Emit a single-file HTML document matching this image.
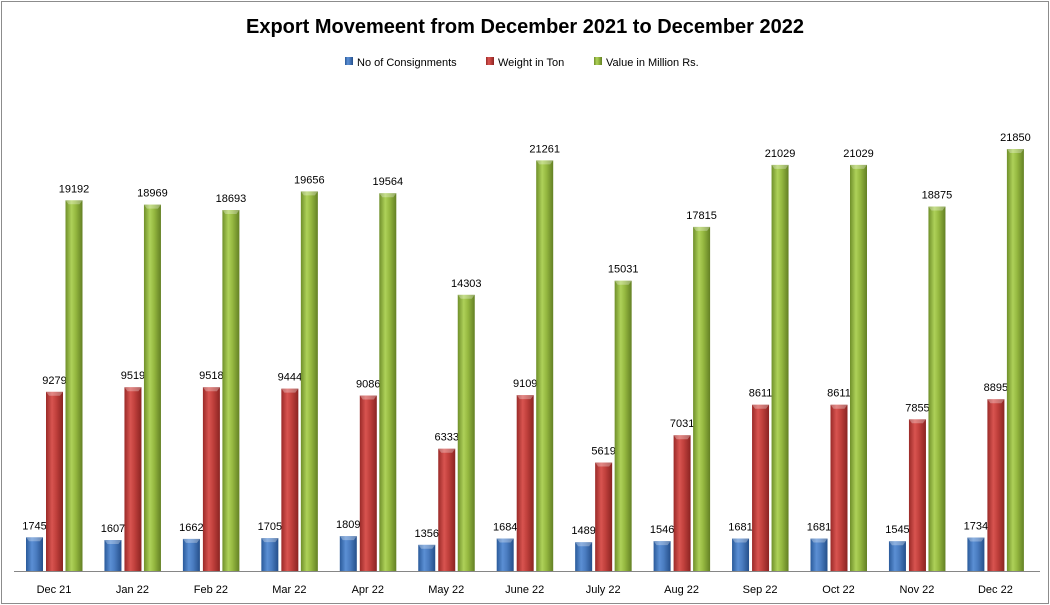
<!DOCTYPE html>
<html><head><meta charset="utf-8"><style>
body{margin:0;background:#fff;}
svg{display:block;font-family:"Liberation Sans",Arial,sans-serif;}
</style></head><body>
<svg id="c" width="1050" height="605" viewBox="0 0 1050 605" xmlns="http://www.w3.org/2000/svg">
<defs>
<linearGradient id="gb" x1="0" x2="1"><stop offset="0" stop-color="#2a5a9a"/><stop offset="0.35" stop-color="#5b8fd4"/><stop offset="0.6" stop-color="#4a7cc0"/><stop offset="1" stop-color="#254f8a"/></linearGradient>
<linearGradient id="gr" x1="0" x2="1"><stop offset="0" stop-color="#9a2a28"/><stop offset="0.35" stop-color="#d85450"/><stop offset="0.6" stop-color="#c0403c"/><stop offset="1" stop-color="#8a2422"/></linearGradient>
<linearGradient id="gg" x1="0" x2="1"><stop offset="0" stop-color="#6f8f2a"/><stop offset="0.35" stop-color="#aed159"/><stop offset="0.6" stop-color="#95b840"/><stop offset="1" stop-color="#638024"/></linearGradient>
</defs>
<rect x="1.5" y="1.5" width="1047" height="602" fill="#fff" stroke="#8c8c8c"/>
<text x="525" y="33" text-anchor="middle" font-size="20" font-weight="bold" fill="#000">Export Movemeent from December 2021 to December 2022</text>
<rect x="345" y="57" width="8" height="8" fill="url(#gb)"/><text x="357" y="66" font-size="11">No of Consignments</text>
<rect x="486" y="57" width="8" height="8" fill="url(#gr)"/><text x="498" y="66" font-size="11">Weight in Ton</text>
<rect x="594" y="57" width="8" height="8" fill="url(#gg)"/><text x="606" y="66" font-size="11">Value in Million Rs.</text>
<line x1="14" y1="571.5" x2="1040" y2="571.5" stroke="#868686"/>
<g id="bars"></g>
</svg>
<script>
var labels=["Dec 21","Jan 22","Feb 22","Mar 22","Apr 22","May 22","June 22","July 22","Aug 22","Sep 22","Oct 22","Nov 22","Dec 22"];
var a=[1745,1607,1662,1705,1809,1356,1684,1489,1546,1681,1681,1545,1734];
var b=[9279,9519,9518,9444,9086,6333,9109,5619,7031,8611,8611,7855,8895];
var c=[19192,18969,18693,19656,19564,14303,21261,15031,17815,21029,21029,18875,21850];
var k=(571-149)/21850, s="", base=571;
function bar(x,v,g){var h=v*k,y=base-h;
 s+='<rect x="'+x+'" y="'+y.toFixed(1)+'" width="17" height="'+h.toFixed(1)+'" fill="url(#'+g+')"/>';
 s+='<path d="M'+x+' '+y.toFixed(1)+'h17l-3 4h-11z" fill="#fff" opacity="0.3"/>';
 s+='<text x="'+(x+8.5)+'" y="'+(y-8).toFixed(1)+'" text-anchor="middle" font-size="11">'+v+'</text>';}
for(var i=0;i<13;i++){var x0=26+i*78.45;
 bar(x0,a[i],"gb");bar(x0+20,b[i],"gr");bar(x0+39.5,c[i],"gg");
 s+='<text x="'+(x0+28)+'" y="593" text-anchor="middle" font-size="11">'+labels[i]+'</text>';}
document.getElementById("bars").innerHTML=s;
</script>
</body></html>
